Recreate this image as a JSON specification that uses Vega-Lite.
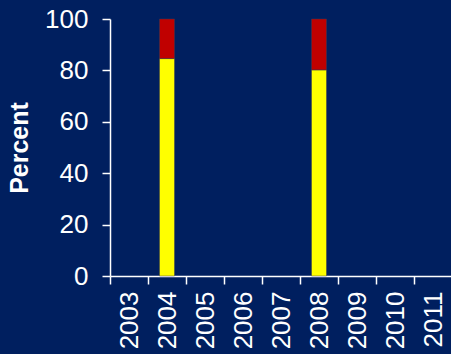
{
  "$schema": "https://vega.github.io/schema/vega-lite/v6.json",
  "width": 342,
  "height": 257,
  "autosize": {"type": "none"},
  "padding": {"left": 110, "top": 19, "right": 0, "bottom": 78},
  "background": "#001F5F",
  "config": {
    "view": {"stroke": null},
    "font": "Liberation Sans",
    "axis": {"labelColor": "white", "titleColor": "white", "domainColor": "white", "tickColor": "white", "grid": false, "labelFont": "Liberation Sans", "titleFont": "Liberation Sans"}
  },
  "data": {
    "values": [
      {"year": "2004", "cat": "A", "ord": 1, "value": 84.6},
      {"year": "2004", "cat": "B", "ord": 2, "value": 15.4},
      {"year": "2008", "cat": "A", "ord": 1, "value": 80.2},
      {"year": "2008", "cat": "B", "ord": 2, "value": 19.8}
    ]
  },
  "mark": {"type": "bar", "size": 15, "stroke": "#3a3a50", "strokeWidth": 0.5},
  "encoding": {
    "x": {
      "field": "year", "type": "nominal",
      "scale": {"domain": ["2003","2004","2005","2006","2007","2008","2009","2010","2011"], "paddingInner": 0, "paddingOuter": 0},
      "axis": {"title": null, "labelAngle": -90, "labelFontSize": 26, "labelAlign": "right", "labelBaseline": "middle", "tickBand": "extent", "tickSize": 8, "tickWidth": 1.5, "domainWidth": 1.5, "labelPadding": 7}
    },
    "y": {
      "field": "value", "type": "quantitative", "stack": "zero",
      "scale": {"domain": [0, 100], "nice": false},
      "axis": {"title": "Percent", "values": [0,20,40,60,80,100], "labelFontSize": 26, "titleFontSize": 25, "titleFontWeight": "bold", "tickSize": 8, "tickWidth": 1.5, "domainWidth": 1.5, "labelPadding": 14, "titlePadding": 12}
    },
    "color": {"field": "cat", "type": "nominal", "scale": {"domain": ["A","B"], "range": ["#FFFF00", "#C00000"]}, "legend": null},
    "order": {"field": "ord", "type": "quantitative"}
  }
}
